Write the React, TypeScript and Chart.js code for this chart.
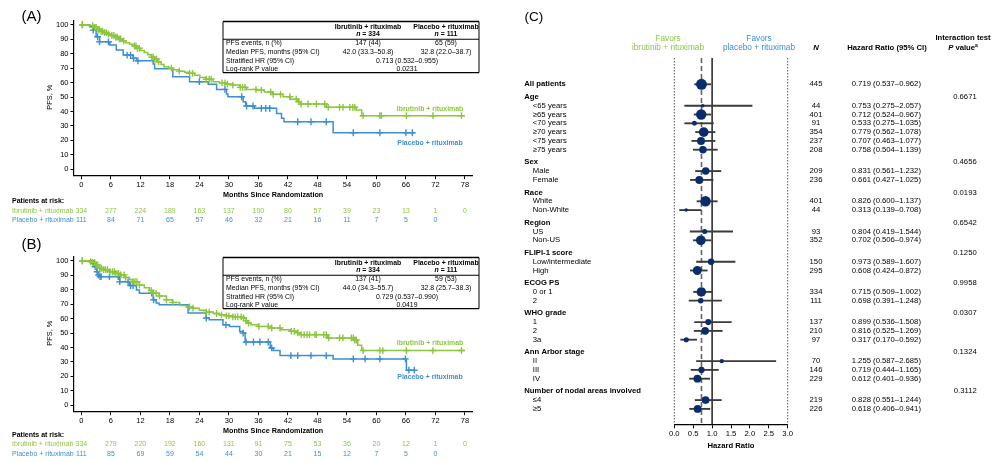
import { useEffect, useRef } from 'react';
import { Chart, registerables } from 'chart.js';

Chart.register(...registerables);

const FONT = 'Arial, "Liberation Sans", Helvetica, sans-serif';
const GREEN = '#8cc63f';
const BLUE = '#3d8fd1';
const NAVY = '#0b2c6b';

// ---------- Kaplan–Meier panels ----------
const monthTicks = [0, 6, 12, 18, 24, 30, 36, 42, 48, 54, 60, 66, 72, 78];
const pfsTicks = [0, 10, 20, 30, 40, 50, 60, 70, 80, 90, 100];
const armLabels = ['Ibrutinib + rituximab', 'Placebo + rituximab'];
const armN = [334, 111];
const statLabels = ['PFS events, n (%)', 'Median PFS, months (95% CI)', 'Stratified HR (95% CI)', 'Log-rank P value'];

// (A)
const aIbrTime = [0, 1.5, 2.5, 3.2, 3.8, 4.5, 5.2, 6.0, 6.8, 7.5, 8.3, 9.0, 9.8, 10.5, 11.2, 12.0, 12.8, 13.5, 14.2, 14.8, 15.5, 16.2, 16.8, 17.8, 18.6, 19.8, 21.0, 22.0, 23.0, 24.1, 25.3, 26.8, 28.0, 29.4, 30.8, 32.2, 33.6, 35.6, 37.2, 39.0, 41.0, 42.5, 44.0, 44.6, 49.8, 55.9, 57.0];
const aIbrPfs = [100, 99.4, 98.2, 96.8, 95.5, 94.5, 93.6, 92.6, 91.5, 90.2, 88.8, 87.6, 86.5, 85.3, 83.7, 82.2, 80.8, 79.3, 77.6, 76.2, 74.4, 72.5, 71.0, 70.0, 68.9, 67.9, 67.1, 66.4, 65.1, 63.6, 62.3, 60.6, 59.8, 59.0, 58.3, 56.7, 55.3, 54.8, 53.5, 51.9, 50.2, 48.5, 46.8, 45.2, 42.9, 41.0, 37.1];
const aIbrCensor = [0.2, 2.3, 2.7, 3.0, 3.4, 3.6, 4.0, 4.3, 4.7, 5.1, 5.5, 6.2, 6.6, 7.0, 7.3, 7.7, 8.0, 8.6, 10.8, 11.1, 11.4, 11.8, 14.3, 14.6, 14.9, 15.3, 15.7, 18.3, 19.9, 22.0, 22.6, 25.4, 26.0, 26.4, 28.6, 29.2, 29.7, 30.8, 32.3, 32.8, 33.3, 35.5, 36.6, 38.5, 39.0, 40.5, 42.4, 43.7, 44.2, 44.7, 46.1, 47.8, 49.5, 50.2, 52.5, 53.2, 54.6, 55.2, 55.6, 57.3, 60.7, 61.0, 66.1, 71.5, 77.3];
const aPboTime = [0, 1.7, 2.4, 3.0, 3.7, 5.8, 7.1, 8.5, 10.5, 11.2, 14.6, 14.9, 18.6, 22.0, 25.8, 27.5, 29.5, 29.8, 32.9, 33.4, 35.2, 39.7, 40.7, 41.2, 51.2];
const aPboPfs = [100, 98.6, 96.3, 91.7, 88.2, 86.0, 82.5, 79.0, 76.8, 75.1, 72.8, 69.5, 64.0, 60.6, 58.8, 55.3, 52.1, 50.2, 46.8, 43.8, 42.2, 38.7, 35.3, 32.9, 25.3];
const aPboCensor = [0.2, 2.4, 3.3, 3.7, 5.5, 9.3, 10.0, 10.6, 11.5, 24.0, 29.2, 32.6, 33.6, 34.9, 36.6, 37.5, 38.3, 44.0, 46.7, 49.8, 55.3, 60.7, 66.0, 67.3];
const aFollowUp = [78, 67.8];
const aIbrRisk = [334, 277, 224, 189, 163, 137, 100, 80, 57, 39, 23, 13, 1, 0];
const aPboRisk = [111, 84, 71, 65, 57, 46, 32, 21, 16, 11, 7, 5, 0];
const aEvents = ['147 (44)', '65 (59)'];
const aMedian = ['42.0 (33.3–50.8)', '32.8 (22.0–38.7)'];
const aHR = '0.713 (0.532–0.955)';
const aLogRank = '0.0231';

// (B)
const bIbrTime = [0, 1.5, 2.3, 3.0, 3.7, 4.5, 5.8, 6.8, 7.8, 8.8, 9.8, 10.5, 11.8, 12.8, 13.8, 14.6, 15.8, 17.3, 18.5, 20.0, 21.3, 22.7, 24.0, 25.4, 26.8, 28.1, 29.5, 30.8, 32.9, 33.5, 33.9, 34.5, 36.0, 38.5, 40.5, 42.5, 44.0, 44.5, 50.0, 55.5, 56.2, 57.0];
const bIbrPfs = [100, 99.4, 98.9, 97.0, 94.8, 93.8, 92.4, 91.3, 90.2, 88.5, 86.8, 85.5, 83.3, 81.3, 79.4, 77.6, 75.6, 73.0, 71.2, 69.0, 68.0, 67.2, 65.8, 64.5, 63.5, 62.6, 61.9, 61.2, 60.4, 58.5, 56.9, 55.7, 54.6, 53.5, 52.3, 51.2, 50.2, 48.9, 46.6, 45.2, 41.5, 37.9];
const bIbrCensor = [0.2, 1.9, 2.3, 2.7, 3.0, 3.3, 3.7, 4.1, 4.5, 4.9, 5.3, 5.8, 6.3, 6.7, 7.0, 7.5, 8.0, 8.7, 9.0, 10.5, 10.9, 11.3, 11.8, 14.2, 14.6, 15.2, 15.9, 17.3, 18.6, 22.0, 22.7, 25.4, 26.0, 27.5, 28.5, 29.5, 30.0, 30.8, 31.3, 31.8, 32.5, 33.0, 33.5, 34.0, 36.1, 38.0, 38.7, 40.4, 42.7, 43.3, 44.0, 44.7, 45.3, 45.9, 46.4, 47.5, 47.8, 49.3, 49.8, 50.3, 52.5, 53.2, 54.9, 55.3, 55.6, 55.9, 57.3, 60.7, 61.3, 66.1, 71.5, 77.3];
const bPboTime = [0, 2.4, 2.7, 3.1, 3.4, 3.8, 7.8, 9.8, 11.2, 11.8, 14.6, 15.2, 15.8, 21.7, 25.4, 26.0, 28.8, 30.1, 32.2, 32.9, 33.3, 38.4, 39.0, 40.4, 51.2, 66.1];
const bPboPfs = [100, 98.2, 95.9, 92.4, 90.1, 89.0, 85.5, 82.8, 79.8, 77.6, 73.0, 70.7, 69.5, 63.8, 60.4, 59.2, 55.7, 54.6, 51.1, 50.0, 43.8, 39.7, 37.9, 34.4, 32.1, 24.3];
const bPboCensor = [0.2, 2.4, 2.8, 3.2, 3.5, 3.8, 4.0, 5.7, 7.5, 7.8, 9.5, 10.0, 10.5, 14.3, 14.7, 25.4, 29.4, 32.9, 33.5, 35.0, 36.3, 38.0, 38.7, 42.6, 44.0, 46.7, 49.8, 55.3, 57.7, 60.7, 65.9, 66.6, 67.7];
const bFollowUp = [78, 67.8];
const bIbrRisk = [334, 279, 220, 192, 160, 131, 91, 75, 53, 36, 20, 12, 1, 0];
const bPboRisk = [111, 85, 69, 59, 54, 44, 30, 21, 15, 12, 7, 5, 0];
const bEvents = ['137 (41)', '59 (53)'];
const bMedian = ['44.0 (34.3–55.7)', '32.8 (25.7–38.3)'];
const bHR = '0.729 (0.537–0.990)';
const bLogRank = '0.0419';

// ---------- Forest plot ----------
const forestLabels = ['All patients', 'Age', '<65 years', '≥65 years', '<70 years', '≥70 years', '<75 years', '≥75 years', 'Sex', 'Male', 'Female', 'Race', 'White', 'Non-White', 'Region', 'US', 'Non-US', 'FLIPI-1 score', 'Low/intermediate', 'High', 'ECOG PS', '0 or 1', '2', 'WHO grade', '1', '2', '3a', 'Ann Arbor stage', 'II', 'III', 'IV', 'Number of nodal areas involved', '≤4', '≥5'];
const forestN = [445, null, 44, 401, 91, 354, 237, 208, null, 209, 236, null, 401, 44, null, 93, 352, null, 150, 295, null, 334, 111, null, 137, 210, 97, null, 70, 146, 229, null, 219, 226];
const forestHR = [0.719, null, 0.753, 0.712, 0.533, 0.779, 0.707, 0.758, null, 0.831, 0.661, null, 0.826, 0.313, null, 0.804, 0.702, null, 0.973, 0.608, null, 0.715, 0.698, null, 0.899, 0.816, 0.317, null, 1.255, 0.719, 0.612, null, 0.828, 0.618];
const forestLo = [0.537, null, 0.275, 0.524, 0.275, 0.562, 0.463, 0.504, null, 0.561, 0.427, null, 0.600, 0.139, null, 0.419, 0.506, null, 0.589, 0.424, null, 0.509, 0.391, null, 0.536, 0.525, 0.170, null, 0.587, 0.444, 0.401, null, 0.551, 0.406];
const forestHi = [0.962, null, 2.057, 0.967, 1.035, 1.078, 1.077, 1.139, null, 1.232, 1.025, null, 1.137, 0.708, null, 1.544, 0.974, null, 1.607, 0.872, null, 1.002, 1.248, null, 1.508, 1.269, 0.592, null, 2.685, 1.165, 0.936, null, 1.244, 0.941];
const forestP = [null, '0.6671', null, null, null, null, null, null, '0.4656', null, null, '0.0193', null, null, '0.6542', null, null, '0.1250', null, null, '0.9958', null, null, '0.0307', null, null, null, '0.1324', null, null, null, '0.3112', null, null];
const hrTicks = [0, 0.5, 1, 1.5, 2, 2.5, 3];

// ---------- helpers ----------
type Run = { s: string; bold?: boolean; italic?: boolean; size?: number; dy?: number };
type TOpts = { size: number; bold?: boolean; italic?: boolean; color?: string; align?: CanvasTextAlign };

function fontOf(size: number, bold?: boolean, italic?: boolean) {
  return `${italic ? 'italic ' : ''}${bold ? 'bold ' : ''}${size}px ${FONT}`;
}

function put(ctx: CanvasRenderingContext2D, s: string, x: number, y: number, o: TOpts) {
  ctx.font = fontOf(o.size, o.bold, o.italic);
  ctx.fillStyle = o.color || '#000';
  ctx.textAlign = o.align || 'left';
  ctx.textBaseline = 'middle';
  ctx.fillText(s, x, y);
}

// mixed-style text centred on x
function putRuns(ctx: CanvasRenderingContext2D, runs: Run[], x: number, y: number, size: number, color = '#000') {
  let total = 0;
  const widths = runs.map((r) => {
    ctx.font = fontOf(r.size || size, r.bold, r.italic);
    const w = ctx.measureText(r.s).width;
    total += w;
    return w;
  });
  let cx = x - total / 2;
  runs.forEach((r, i) => {
    put(ctx, r.s, cx, y + (r.dy || 0), { size: r.size || size, bold: r.bold, italic: r.italic, color });
    cx += widths[i];
  });
}

function hline(ctx: CanvasRenderingContext2D, x1: number, y1: number, x2: number, y2: number, w: number) {
  ctx.beginPath();
  ctx.lineWidth = w;
  ctx.strokeStyle = '#000';
  ctx.moveTo(x1, y1);
  ctx.lineTo(x2, y2);
  ctx.stroke();
}

function pfsAt(time: number[], pfs: number[], t: number) {
  let v = pfs[0];
  for (let i = 0; i < time.length; i++) if (time[i] <= t) v = pfs[i];
  return v;
}

function stepPoints(time: number[], pfs: number[], end: number) {
  const pts = time.map((t, i) => ({ x: t, y: pfs[i] }));
  pts.push({ x: end, y: pfs[pfs.length - 1] });
  return pts;
}

type Arm = { time: number[]; pfs: number[]; censor: number[]; risk: number[]; end: number };
type KMProps = {
  letter: string;
  ibr: Arm;
  pbo: Arm;
  events: string[];
  median: string[];
  hr: string;
  logRank: string;
  top: number;
  height: number;
  letterY: number;
  riskY: number[];
  labelY: number[];
};

function KMPanel(p: KMProps) {
  const ref = useRef<HTMLCanvasElement>(null);
  useEffect(() => {
    const canvas = ref.current;
    if (!canvas) return;

    const textPlugin = {
      id: 'kmText',
      afterDraw(chart: any) {
        const ctx: CanvasRenderingContext2D = chart.ctx;
        const xs = chart.scales.x;
        const area = chart.chartArea;
        ctx.save();
        put(ctx, `(${p.letter})`, 21.5, p.letterY, { size: 15 });

        ctx.save();
        ctx.translate(50, (area.top + area.bottom) / 2 - 1);
        ctx.rotate(-Math.PI / 2);
        put(ctx, 'PFS, %', 0, 0, { size: 7.4, align: 'center' });
        ctx.restore();

        const midX = (xs.getPixelForValue(monthTicks[0]) + xs.getPixelForValue(monthTicks[monthTicks.length - 1])) / 2;
        put(ctx, 'Months Since Randomization', midX, 195, { size: 7.2, bold: true, align: 'center' });

        // summary table
        const L = 223, R = 479, T = 21.5, H1 = 39.2, B = 72.6;
        const c1 = 368, c2 = 446, cm = 407, lx = 226;
        ctx.fillStyle = '#fff';
        ctx.fillRect(L, T, R - L, B - T);
        hline(ctx, L, T, R, T, 1.6);
        hline(ctx, L, H1, R, H1, 1.1);
        hline(ctx, L, B, R, B, 1.2);
        hline(ctx, L, T, L, B, 1);
        hline(ctx, R, T, R, B, 1);
        put(ctx, armLabels[0], c1, T + 5.2, { size: 6.9, bold: true, align: 'center' });
        put(ctx, armLabels[1], c2, T + 5.2, { size: 6.9, bold: true, align: 'center' });
        putRuns(ctx, [{ s: 'n', bold: true, italic: true }, { s: ` = ${armN[0]}`, bold: true }], c1, T + 12.5, 6.9);
        putRuns(ctx, [{ s: 'n', bold: true, italic: true }, { s: ` = ${armN[1]}`, bold: true }], c2, T + 12.5, 6.9);
        const rowY = [T + 21.8, T + 30.6, T + 39.5, T + 47.6];
        statLabels.forEach((s, i) => put(ctx, s, lx, rowY[i], { size: 6.9 }));
        put(ctx, p.events[0], c1, rowY[0], { size: 6.9, align: 'center' });
        put(ctx, p.events[1], c2, rowY[0], { size: 6.9, align: 'center' });
        put(ctx, p.median[0], c1, rowY[1], { size: 6.9, align: 'center' });
        put(ctx, p.median[1], c2, rowY[1], { size: 6.9, align: 'center' });
        put(ctx, p.hr, cm, rowY[2], { size: 6.9, align: 'center' });
        put(ctx, p.logRank, cm, rowY[3], { size: 6.9, align: 'center' });

        // curve names
        put(ctx, armLabels[0], 430, p.labelY[0], { size: 6.9, bold: true, color: GREEN, align: 'center' });
        put(ctx, armLabels[1], 430, p.labelY[1], { size: 6.9, bold: true, color: BLUE, align: 'center' });

        // numbers at risk
        put(ctx, 'Patients at risk:', 12, p.riskY[0], { size: 7, bold: true });
        put(ctx, armLabels[0], 12, p.riskY[1], { size: 7, color: GREEN });
        put(ctx, armLabels[1], 12, p.riskY[2], { size: 7, color: BLUE });
        p.ibr.risk.forEach((v, i) =>
          put(ctx, String(v), xs.getPixelForValue(monthTicks[i]), p.riskY[1], { size: 7, color: GREEN, align: 'center' })
        );
        p.pbo.risk.forEach((v, i) =>
          put(ctx, String(v), xs.getPixelForValue(monthTicks[i]), p.riskY[2], { size: 7, color: BLUE, align: 'center' })
        );
        ctx.restore();
      },
    };

    const censorSet = (a: Arm, color: string) => ({
      data: a.censor.map((t) => ({ x: t, y: pfsAt(a.time, a.pfs, t) })),
      pointStyle: 'cross',
      pointRadius: 3.4,
      pointBorderWidth: 1.4,
      borderColor: color,
      backgroundColor: color,
      showLine: false,
      clip: false,
    });
    const curveSet = (a: Arm, color: string) => ({
      data: stepPoints(a.time, a.pfs, a.end),
      showLine: true,
      stepped: 'before',
      borderColor: color,
      borderWidth: 1.5,
      pointRadius: 0,
      fill: false,
      clip: false,
    });

    const tickFont = { family: FONT, size: 7.5 };
    const H = p.height;
    const chart = new Chart(canvas, {
      type: 'scatter',
      data: {
        datasets: [censorSet(p.ibr, GREEN), curveSet(p.ibr, GREEN), censorSet(p.pbo, BLUE), curveSet(p.pbo, BLUE)] as any,
      },
      options: {
        animation: false,
        responsive: false,
        events: [],
        layout: { padding: { left: 0, right: 17.7, top: 20.7, bottom: 0 } },
        plugins: { legend: { display: false }, tooltip: { enabled: false } },
        scales: {
          x: {
            type: 'linear',
            min: -1.5,
            max: 79.5,
            afterBuildTicks: (s: any) => {
              s.ticks = monthTicks.map((v) => ({ value: v }));
            },
            afterFit: (s: any) => {
              s.height = H - 175.7;
            },
            grid: { display: true, drawOnChartArea: false, drawTicks: true, tickLength: 3.5, color: '#000', lineWidth: 1 },
            border: { display: true, color: '#000', width: 1.2 },
            ticks: { font: tickFont, color: '#000', padding: 1, maxRotation: 0, autoSkip: false },
          },
          y: {
            type: 'linear',
            min: -4.4,
            max: 102.8,
            afterBuildTicks: (s: any) => {
              s.ticks = pfsTicks.map((v) => ({ value: v }));
            },
            afterFit: (s: any) => {
              s.width = 74;
            },
            grid: { display: true, drawOnChartArea: false, drawTicks: true, tickLength: 3.5, color: '#000', lineWidth: 1 },
            border: { display: true, color: '#000', width: 1.2 },
            ticks: { font: tickFont, color: '#000', padding: 2, autoSkip: false },
          },
        },
      } as any,
      plugins: [textPlugin],
    });
    return () => chart.destroy();
  }, []);
  return (
    <canvas
      ref={ref}
      width={490}
      height={p.height}
      style={{ position: 'absolute', left: 0, top: p.top, width: 490, height: p.height }}
    />
  );
}

// vertical positions of forest rows: group headings get a little extra space
const GROUP_GAP = 0.432;
function forestRowPositions() {
  const pos: number[] = [];
  let y = 0;
  forestLabels.forEach((_, i) => {
    if (i > 0) y += 1 + (forestN[i] === null ? GROUP_GAP : 0);
    pos.push(y);
  });
  return pos;
}

function ForestPanel() {
  const ref = useRef<HTMLCanvasElement>(null);
  useEffect(() => {
    const canvas = ref.current;
    if (!canvas) return;
    const H = 462;
    const yTop = -2.99, yBottom = 38.64;
    const pos = forestRowPositions();
    const idx = forestLabels.map((_, i) => i).filter((i) => forestN[i] !== null);

    const refLine = (v: number, color: string, width: number, dash: number[]) => ({
      data: [{ x: v, y: yTop }, { x: v, y: yBottom }],
      showLine: true,
      borderColor: color,
      borderWidth: width,
      borderDash: dash,
      pointRadius: 0,
      clip: false,
    });

    const textPlugin = {
      id: 'forestText',
      afterDraw(chart: any) {
        const ctx: CanvasRenderingContext2D = chart.ctx;
        const ys = chart.scales.y;
        const xs = chart.scales.x;
        ctx.save();
        put(ctx, '(C)', 34.5, 17, { size: 13.5 });
        put(ctx, 'Favors', 178, 38.3, { size: 8.3, color: GREEN, align: 'center' });
        put(ctx, 'ibrutinib + rituximab', 178, 47.7, { size: 8.3, color: GREEN, align: 'center' });
        put(ctx, 'Favors', 269, 38.3, { size: 8.3, color: BLUE, align: 'center' });
        put(ctx, 'placebo + rituximab', 269, 47.7, { size: 8.3, color: BLUE, align: 'center' });
        put(ctx, 'N', 326, 47.7, { size: 7.7, bold: true, italic: true, align: 'center' });
        put(ctx, 'Hazard Ratio (95% CI)', 397, 47.7, { size: 7.7, bold: true, align: 'center' });
        put(ctx, 'Interaction test', 473, 38.3, { size: 7.7, bold: true, align: 'center' });
        putRuns(ctx, [{ s: 'P', bold: true, italic: true }, { s: ' value', bold: true }, { s: 'a', bold: true, size: 5, dy: -2.5 }], 473, 47.7, 7.7);

        forestLabels.forEach((label, i) => {
          const y = ys.getPixelForValue(pos[i]);
          const heading = forestN[i] === null || i === 0;
          const indent = heading ? 34.3 : 42.8;
          put(ctx, label, indent, y, { size: 7.7, bold: heading });
          const n = forestN[i];
          if (n !== null) {
            put(ctx, String(n), 326, y, { size: 7.7, align: 'center' });
            const txt = `${(forestHR[i] as number).toFixed(3)} (${(forestLo[i] as number).toFixed(3)}–${(forestHi[i] as number).toFixed(3)})`;
            put(ctx, txt, 361.7, y, { size: 7.7 });
          }
          const pv = forestP[i];
          if (pv) put(ctx, pv, 486.7, y, { size: 7.7, align: 'right' });
        });

        const mid = (xs.getPixelForValue(hrTicks[0]) + xs.getPixelForValue(hrTicks[hrTicks.length - 1])) / 2;
        put(ctx, 'Hazard Ratio', mid, 445.7, { size: 7.7, bold: true, align: 'center' });
        ctx.restore();
      },
    };

    const chart = new Chart(canvas, {
      type: 'scatter',
      data: {
        datasets: [
          {
            data: idx.map((i) => ({ x: forestHR[i], y: pos[i] })),
            pointRadius: idx.map((i) => 0.26 * Math.sqrt(forestN[i] as number)),
            pointBackgroundColor: NAVY,
            pointBorderColor: NAVY,
            pointBorderWidth: 0,
            showLine: false,
            clip: false,
          },
          {
            type: 'bar',
            indexAxis: 'y',
            data: idx.map((i) => ({ x: [forestLo[i], forestHi[i]], y: pos[i] })),
            backgroundColor: '#3a3a3a',
            borderWidth: 0,
            barThickness: 1.2,
            clip: false,
          },
          refLine(1, '#000', 1.3, []),
          refLine(forestHR[0] as number, '#666', 1.6, [5, 3]),
          refLine(hrTicks[0], '#555', 1, [1.5, 1.5]),
          refLine(hrTicks[hrTicks.length - 1], '#555', 1, [1.5, 1.5]),
        ] as any,
      },
      options: {
        animation: false,
        responsive: false,
        events: [],
        layout: { padding: { left: 184.3, right: 211.3, top: 58, bottom: 0 } },
        plugins: { legend: { display: false }, tooltip: { enabled: false } },
        scales: {
          x: {
            type: 'linear',
            min: 0,
            max: 3,
            afterBuildTicks: (s: any) => {
              s.ticks = hrTicks.map((v) => ({ value: v }));
            },
            afterFit: (s: any) => {
              s.height = H - 424.3;
            },
            grid: { display: true, drawOnChartArea: false, drawTicks: true, tickLength: 4, color: '#000', lineWidth: 1 },
            border: { display: true, color: '#000', width: 1.2 },
            ticks: {
              font: { family: FONT, size: 7.7 },
              color: '#000',
              padding: 1,
              maxRotation: 0,
              autoSkip: false,
              callback: (v: any) => Number(v).toFixed(1),
            },
          },
          y: {
            type: 'linear',
            display: false,
            min: yTop,
            max: yBottom,
            reverse: true,
            offset: false,
            grid: { offset: false },
          },
        },
      } as any,
      plugins: [textPlugin],
    });
    return () => chart.destroy();
  }, []);
  return (
    <canvas ref={ref} width={509} height={462} style={{ position: 'absolute', left: 490, top: 0, width: 509, height: 462 }} />
  );
}

export default function App() {
  return (
    <div style={{ position: 'absolute', left: 0, top: 0, width: 999, height: 462, background: '#fff', overflow: 'hidden' }}>
      <KMPanel
        letter="A"
        ibr={{ time: aIbrTime, pfs: aIbrPfs, censor: aIbrCensor, risk: aIbrRisk, end: aFollowUp[0] }}
        pbo={{ time: aPboTime, pfs: aPboPfs, censor: aPboCensor, risk: aPboRisk, end: aFollowUp[1] }}
        events={aEvents}
        median={aMedian}
        hr={aHR}
        logRank={aLogRank}
        top={0}
        height={236}
        letterY={16.7}
        riskY={[200.7, 210.7, 220.3]}
        labelY={[109, 143]}
      />
      <KMPanel
        letter="B"
        ibr={{ time: bIbrTime, pfs: bIbrPfs, censor: bIbrCensor, risk: bIbrRisk, end: bFollowUp[0] }}
        pbo={{ time: bPboTime, pfs: bPboPfs, censor: bPboCensor, risk: bPboRisk, end: bFollowUp[1] }}
        events={bEvents}
        median={bMedian}
        hr={bHR}
        logRank={bLogRank}
        top={236}
        height={226}
        letterY={9}
        riskY={[199, 208.5, 218]}
        labelY={[107.3, 141.3]}
      />
      <ForestPanel />
    </div>
  );
}
